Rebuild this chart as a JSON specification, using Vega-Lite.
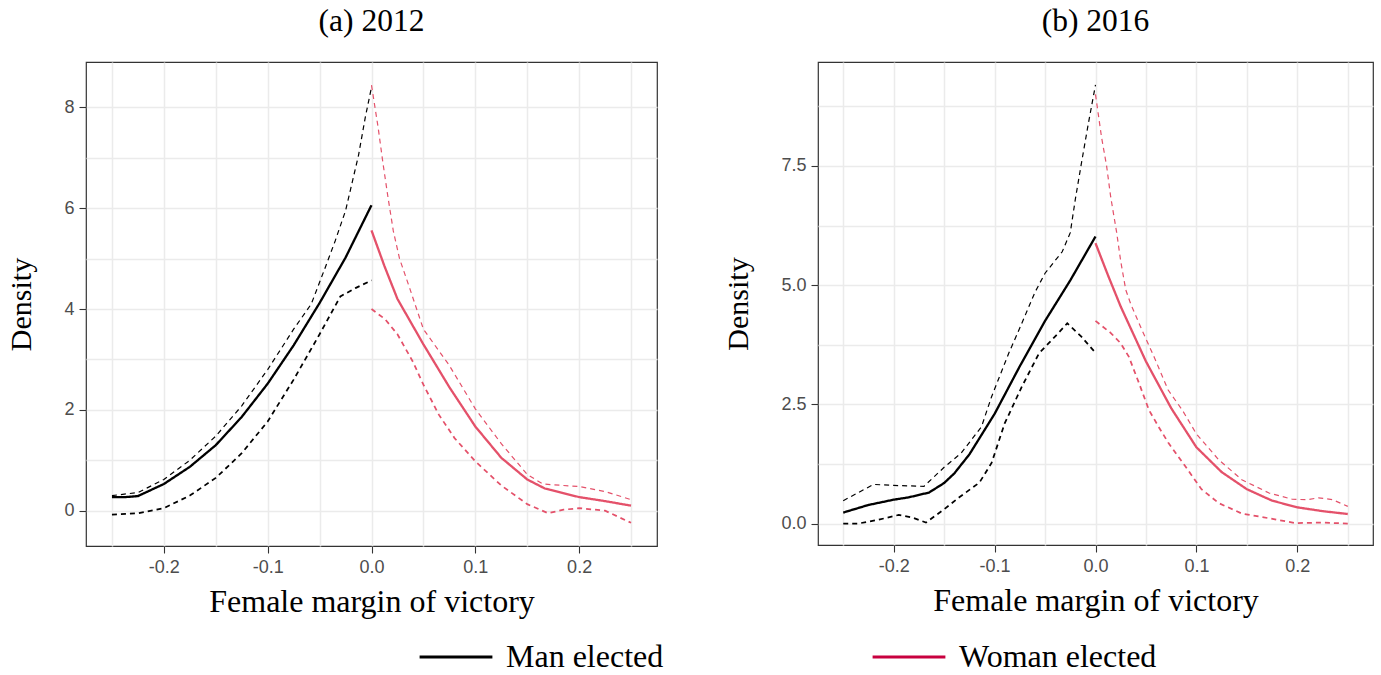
{
  "$schema": "https://vega.github.io/schema/vega-lite/v6.json",
  "background": "white",
  "padding": {"left": 6, "top": 4, "right": 5, "bottom": 5},
  "config": {
    "view": {"stroke": "#333333", "strokeWidth": 1.2},
    "axis": {
      "labelFont": "Liberation Sans", "labelFontSize": 18, "labelColor": "#4D4D4D",
      "tickColor": "#333333", "tickSize": 7, "tickWidth": 1.1, "labelPadding": 5,
      "domain": false, "gridColor": "#EBEBEB", "gridWidth": 1.5,
      "labelOverlap": false, "labelFlush": false,
      "titleFont": "Liberation Serif", "titleFontSize": 30, "titleFontWeight": "normal", "titleColor": "black"
    },
    "title": {"font": "Liberation Serif", "fontSize": 31.5, "fontWeight": "normal", "color": "black", "offset": 25},
    "legend": {"labelFont": "Liberation Serif", "labelFontSize": 32, "labelColor": "black"}
  },
  "datasets": {
    "d2012": [
      {"group": "Man elected", "band": "estimate", "x": -0.25, "y": 0.27},
      {"group": "Man elected", "band": "estimate", "x": -0.237, "y": 0.27},
      {"group": "Man elected", "band": "estimate", "x": -0.225, "y": 0.29},
      {"group": "Man elected", "band": "estimate", "x": -0.2, "y": 0.53},
      {"group": "Man elected", "band": "estimate", "x": -0.175, "y": 0.87},
      {"group": "Man elected", "band": "estimate", "x": -0.15, "y": 1.3},
      {"group": "Man elected", "band": "estimate", "x": -0.125, "y": 1.86},
      {"group": "Man elected", "band": "estimate", "x": -0.1, "y": 2.52},
      {"group": "Man elected", "band": "estimate", "x": -0.075, "y": 3.28},
      {"group": "Man elected", "band": "estimate", "x": -0.05, "y": 4.12},
      {"group": "Man elected", "band": "estimate", "x": -0.025, "y": 5.02},
      {"group": "Man elected", "band": "estimate", "x": 0, "y": 6.06},
      {"group": "Man elected", "band": "upper", "x": -0.25, "y": 0.3},
      {"group": "Man elected", "band": "upper", "x": -0.225, "y": 0.36},
      {"group": "Man elected", "band": "upper", "x": -0.2, "y": 0.62},
      {"group": "Man elected", "band": "upper", "x": -0.175, "y": 1.0},
      {"group": "Man elected", "band": "upper", "x": -0.15, "y": 1.48},
      {"group": "Man elected", "band": "upper", "x": -0.125, "y": 2.08},
      {"group": "Man elected", "band": "upper", "x": -0.1, "y": 2.8},
      {"group": "Man elected", "band": "upper", "x": -0.075, "y": 3.6},
      {"group": "Man elected", "band": "upper", "x": -0.058, "y": 4.1},
      {"group": "Man elected", "band": "upper", "x": -0.045, "y": 4.8},
      {"group": "Man elected", "band": "upper", "x": -0.035, "y": 5.35},
      {"group": "Man elected", "band": "upper", "x": -0.025, "y": 5.95},
      {"group": "Man elected", "band": "upper", "x": -0.0125, "y": 7.05},
      {"group": "Man elected", "band": "upper", "x": -0.006, "y": 7.8},
      {"group": "Man elected", "band": "upper", "x": 0, "y": 8.4},
      {"group": "Man elected", "band": "lower", "x": -0.25, "y": -0.08},
      {"group": "Man elected", "band": "lower", "x": -0.225, "y": -0.05},
      {"group": "Man elected", "band": "lower", "x": -0.2, "y": 0.05},
      {"group": "Man elected", "band": "lower", "x": -0.175, "y": 0.3},
      {"group": "Man elected", "band": "lower", "x": -0.15, "y": 0.65},
      {"group": "Man elected", "band": "lower", "x": -0.125, "y": 1.14},
      {"group": "Man elected", "band": "lower", "x": -0.1, "y": 1.77},
      {"group": "Man elected", "band": "lower", "x": -0.075, "y": 2.6},
      {"group": "Man elected", "band": "lower", "x": -0.05, "y": 3.5},
      {"group": "Man elected", "band": "lower", "x": -0.03, "y": 4.25},
      {"group": "Man elected", "band": "lower", "x": -0.015, "y": 4.42},
      {"group": "Man elected", "band": "lower", "x": 0, "y": 4.57},
      {"group": "Woman elected", "band": "estimate", "x": 0, "y": 5.56},
      {"group": "Woman elected", "band": "estimate", "x": 0.0125, "y": 4.85},
      {"group": "Woman elected", "band": "estimate", "x": 0.025, "y": 4.2},
      {"group": "Woman elected", "band": "estimate", "x": 0.05, "y": 3.3},
      {"group": "Woman elected", "band": "estimate", "x": 0.075, "y": 2.45},
      {"group": "Woman elected", "band": "estimate", "x": 0.1, "y": 1.67},
      {"group": "Woman elected", "band": "estimate", "x": 0.125, "y": 1.05},
      {"group": "Woman elected", "band": "estimate", "x": 0.15, "y": 0.62},
      {"group": "Woman elected", "band": "estimate", "x": 0.167, "y": 0.44},
      {"group": "Woman elected", "band": "estimate", "x": 0.2, "y": 0.27},
      {"group": "Woman elected", "band": "estimate", "x": 0.225, "y": 0.19},
      {"group": "Woman elected", "band": "estimate", "x": 0.25, "y": 0.1},
      {"group": "Woman elected", "band": "upper", "x": 0, "y": 8.44},
      {"group": "Woman elected", "band": "upper", "x": 0.0064, "y": 7.6},
      {"group": "Woman elected", "band": "upper", "x": 0.011, "y": 6.9},
      {"group": "Woman elected", "band": "upper", "x": 0.016, "y": 6.2},
      {"group": "Woman elected", "band": "upper", "x": 0.021, "y": 5.55},
      {"group": "Woman elected", "band": "upper", "x": 0.027, "y": 5.0},
      {"group": "Woman elected", "band": "upper", "x": 0.037, "y": 4.4},
      {"group": "Woman elected", "band": "upper", "x": 0.05, "y": 3.6},
      {"group": "Woman elected", "band": "upper", "x": 0.075, "y": 2.88},
      {"group": "Woman elected", "band": "upper", "x": 0.1, "y": 2.02},
      {"group": "Woman elected", "band": "upper", "x": 0.125, "y": 1.33},
      {"group": "Woman elected", "band": "upper", "x": 0.15, "y": 0.72},
      {"group": "Woman elected", "band": "upper", "x": 0.165, "y": 0.53},
      {"group": "Woman elected", "band": "upper", "x": 0.185, "y": 0.5},
      {"group": "Woman elected", "band": "upper", "x": 0.2, "y": 0.48},
      {"group": "Woman elected", "band": "upper", "x": 0.225, "y": 0.38},
      {"group": "Woman elected", "band": "upper", "x": 0.25, "y": 0.22},
      {"group": "Woman elected", "band": "lower", "x": 0, "y": 4.0},
      {"group": "Woman elected", "band": "lower", "x": 0.013, "y": 3.8},
      {"group": "Woman elected", "band": "lower", "x": 0.025, "y": 3.5},
      {"group": "Woman elected", "band": "lower", "x": 0.04, "y": 2.95},
      {"group": "Woman elected", "band": "lower", "x": 0.05, "y": 2.5},
      {"group": "Woman elected", "band": "lower", "x": 0.065, "y": 1.9},
      {"group": "Woman elected", "band": "lower", "x": 0.08, "y": 1.44},
      {"group": "Woman elected", "band": "lower", "x": 0.1, "y": 0.98},
      {"group": "Woman elected", "band": "lower", "x": 0.125, "y": 0.5},
      {"group": "Woman elected", "band": "lower", "x": 0.15, "y": 0.13},
      {"group": "Woman elected", "band": "lower", "x": 0.17, "y": -0.05},
      {"group": "Woman elected", "band": "lower", "x": 0.185, "y": 0.02},
      {"group": "Woman elected", "band": "lower", "x": 0.2, "y": 0.05},
      {"group": "Woman elected", "band": "lower", "x": 0.225, "y": 0.0},
      {"group": "Woman elected", "band": "lower", "x": 0.25, "y": -0.24}
    ],
    "d2016": [
      {"group": "Man elected", "band": "estimate", "x": -0.25, "y": 0.23},
      {"group": "Man elected", "band": "estimate", "x": -0.225, "y": 0.39},
      {"group": "Man elected", "band": "estimate", "x": -0.2, "y": 0.5},
      {"group": "Man elected", "band": "estimate", "x": -0.185, "y": 0.55},
      {"group": "Man elected", "band": "estimate", "x": -0.165, "y": 0.65},
      {"group": "Man elected", "band": "estimate", "x": -0.15, "y": 0.85},
      {"group": "Man elected", "band": "estimate", "x": -0.14, "y": 1.05},
      {"group": "Man elected", "band": "estimate", "x": -0.125, "y": 1.45},
      {"group": "Man elected", "band": "estimate", "x": -0.1, "y": 2.3},
      {"group": "Man elected", "band": "estimate", "x": -0.075, "y": 3.3},
      {"group": "Man elected", "band": "estimate", "x": -0.05, "y": 4.25},
      {"group": "Man elected", "band": "estimate", "x": -0.025, "y": 5.1},
      {"group": "Man elected", "band": "estimate", "x": 0, "y": 6.02},
      {"group": "Man elected", "band": "upper", "x": -0.25, "y": 0.48},
      {"group": "Man elected", "band": "upper", "x": -0.235, "y": 0.65},
      {"group": "Man elected", "band": "upper", "x": -0.22, "y": 0.82},
      {"group": "Man elected", "band": "upper", "x": -0.2, "y": 0.8},
      {"group": "Man elected", "band": "upper", "x": -0.17, "y": 0.78},
      {"group": "Man elected", "band": "upper", "x": -0.15, "y": 1.18},
      {"group": "Man elected", "band": "upper", "x": -0.133, "y": 1.48},
      {"group": "Man elected", "band": "upper", "x": -0.113, "y": 2.03},
      {"group": "Man elected", "band": "upper", "x": -0.103, "y": 2.66},
      {"group": "Man elected", "band": "upper", "x": -0.086, "y": 3.57},
      {"group": "Man elected", "band": "upper", "x": -0.073, "y": 4.2},
      {"group": "Man elected", "band": "upper", "x": -0.06, "y": 4.85},
      {"group": "Man elected", "band": "upper", "x": -0.05, "y": 5.25},
      {"group": "Man elected", "band": "upper", "x": -0.033, "y": 5.7},
      {"group": "Man elected", "band": "upper", "x": -0.025, "y": 6.1},
      {"group": "Man elected", "band": "upper", "x": -0.02, "y": 6.8},
      {"group": "Man elected", "band": "upper", "x": -0.0136, "y": 7.6},
      {"group": "Man elected", "band": "upper", "x": -0.007, "y": 8.4},
      {"group": "Man elected", "band": "upper", "x": 0, "y": 9.2},
      {"group": "Man elected", "band": "lower", "x": -0.25, "y": 0.0},
      {"group": "Man elected", "band": "lower", "x": -0.235, "y": 0.0},
      {"group": "Man elected", "band": "lower", "x": -0.215, "y": 0.08},
      {"group": "Man elected", "band": "lower", "x": -0.195, "y": 0.18},
      {"group": "Man elected", "band": "lower", "x": -0.182, "y": 0.13},
      {"group": "Man elected", "band": "lower", "x": -0.168, "y": 0.02},
      {"group": "Man elected", "band": "lower", "x": -0.15, "y": 0.3},
      {"group": "Man elected", "band": "lower", "x": -0.135, "y": 0.55},
      {"group": "Man elected", "band": "lower", "x": -0.115, "y": 0.86},
      {"group": "Man elected", "band": "lower", "x": -0.103, "y": 1.27},
      {"group": "Man elected", "band": "lower", "x": -0.09, "y": 2.1},
      {"group": "Man elected", "band": "lower", "x": -0.073, "y": 2.87},
      {"group": "Man elected", "band": "lower", "x": -0.056, "y": 3.57},
      {"group": "Man elected", "band": "lower", "x": -0.037, "y": 3.99},
      {"group": "Man elected", "band": "lower", "x": -0.028, "y": 4.2},
      {"group": "Man elected", "band": "lower", "x": -0.014, "y": 3.92},
      {"group": "Man elected", "band": "lower", "x": 0, "y": 3.58},
      {"group": "Woman elected", "band": "estimate", "x": 0, "y": 5.88},
      {"group": "Woman elected", "band": "estimate", "x": 0.0125, "y": 5.2},
      {"group": "Woman elected", "band": "estimate", "x": 0.025, "y": 4.55},
      {"group": "Woman elected", "band": "estimate", "x": 0.05, "y": 3.4},
      {"group": "Woman elected", "band": "estimate", "x": 0.075, "y": 2.42},
      {"group": "Woman elected", "band": "estimate", "x": 0.1, "y": 1.6},
      {"group": "Woman elected", "band": "estimate", "x": 0.125, "y": 1.08},
      {"group": "Woman elected", "band": "estimate", "x": 0.15, "y": 0.72},
      {"group": "Woman elected", "band": "estimate", "x": 0.175, "y": 0.48},
      {"group": "Woman elected", "band": "estimate", "x": 0.2, "y": 0.34},
      {"group": "Woman elected", "band": "estimate", "x": 0.225, "y": 0.26},
      {"group": "Woman elected", "band": "estimate", "x": 0.25, "y": 0.2},
      {"group": "Woman elected", "band": "upper", "x": 0, "y": 9.0},
      {"group": "Woman elected", "band": "upper", "x": 0.006, "y": 8.1},
      {"group": "Woman elected", "band": "upper", "x": 0.011, "y": 7.5},
      {"group": "Woman elected", "band": "upper", "x": 0.015, "y": 6.86},
      {"group": "Woman elected", "band": "upper", "x": 0.021, "y": 6.1},
      {"group": "Woman elected", "band": "upper", "x": 0.025, "y": 5.5},
      {"group": "Woman elected", "band": "upper", "x": 0.03, "y": 4.9},
      {"group": "Woman elected", "band": "upper", "x": 0.035, "y": 4.6},
      {"group": "Woman elected", "band": "upper", "x": 0.046, "y": 4.06},
      {"group": "Woman elected", "band": "upper", "x": 0.058, "y": 3.5},
      {"group": "Woman elected", "band": "upper", "x": 0.072, "y": 2.8},
      {"group": "Woman elected", "band": "upper", "x": 0.086, "y": 2.38},
      {"group": "Woman elected", "band": "upper", "x": 0.1, "y": 1.88},
      {"group": "Woman elected", "band": "upper", "x": 0.122, "y": 1.34},
      {"group": "Woman elected", "band": "upper", "x": 0.145, "y": 0.92},
      {"group": "Woman elected", "band": "upper", "x": 0.172, "y": 0.64},
      {"group": "Woman elected", "band": "upper", "x": 0.195, "y": 0.51},
      {"group": "Woman elected", "band": "upper", "x": 0.21, "y": 0.5},
      {"group": "Woman elected", "band": "upper", "x": 0.221, "y": 0.54},
      {"group": "Woman elected", "band": "upper", "x": 0.235, "y": 0.5},
      {"group": "Woman elected", "band": "upper", "x": 0.25, "y": 0.36},
      {"group": "Woman elected", "band": "lower", "x": 0, "y": 4.25},
      {"group": "Woman elected", "band": "lower", "x": 0.015, "y": 4.0},
      {"group": "Woman elected", "band": "lower", "x": 0.025, "y": 3.78},
      {"group": "Woman elected", "band": "lower", "x": 0.033, "y": 3.5},
      {"group": "Woman elected", "band": "lower", "x": 0.043, "y": 2.95},
      {"group": "Woman elected", "band": "lower", "x": 0.053, "y": 2.38},
      {"group": "Woman elected", "band": "lower", "x": 0.0625, "y": 2.03},
      {"group": "Woman elected", "band": "lower", "x": 0.072, "y": 1.7},
      {"group": "Woman elected", "band": "lower", "x": 0.089, "y": 1.2},
      {"group": "Woman elected", "band": "lower", "x": 0.105, "y": 0.72},
      {"group": "Woman elected", "band": "lower", "x": 0.122, "y": 0.43},
      {"group": "Woman elected", "band": "lower", "x": 0.145, "y": 0.21},
      {"group": "Woman elected", "band": "lower", "x": 0.172, "y": 0.11},
      {"group": "Woman elected", "band": "lower", "x": 0.198, "y": 0.01},
      {"group": "Woman elected", "band": "lower", "x": 0.224, "y": 0.02},
      {"group": "Woman elected", "band": "lower", "x": 0.25, "y": 0.0}
    ]
  },
  "hconcat": [
    {
      "width": 571, "height": 484,
      "title": "(a) 2012",
      "data": {"name": "d2012"},
      "encoding": {
        "x": {"field": "x", "type": "quantitative", "title": "Female margin of victory",
          "scale": {"domain": [-0.275, 0.275], "nice": false, "zero": false},
          "axis": {"values": [-0.25, -0.2, -0.15, -0.1, -0.05, 0, 0.05, 0.1, 0.15, 0.2, 0.25],
            "labelExpr": "abs(datum.value*10 - round(datum.value*10)) < 0.001 ? ((datum.value < -0.001 ? '-' : '') + format(abs(datum.value), '.1f')) : ''",
            "tickOpacity": {"condition": {"test": "abs(datum.value*10 - round(datum.value*10)) < 0.001", "value": 1}, "value": 0},
            "titlePadding": 10, "titleFontSize": 32}},
        "y": {"field": "y", "type": "quantitative", "title": "Density",
          "scale": {"domain": [-0.7, 8.9], "nice": false, "zero": false},
          "axis": {"values": [0, 1, 2, 3, 4, 5, 6, 7, 8],
            "labelExpr": "datum.value % 2 === 0 ? format(datum.value, 'd') : ''",
            "tickOpacity": {"condition": {"test": "datum.value % 2 === 0", "value": 1}, "value": 0},
            "titlePadding": 27}},
        "detail": {"field": "band"}
      },
      "layer": [
        {
          "mark": {"type": "line", "clip": true, "opacity": 0},
          "encoding": {
            "color": {"field": "group", "type": "nominal",
              "scale": {"domain": ["Man elected", "Woman elected"], "range": ["#000000", "#C8003F"]},
              "legend": {"title": null, "orient": "none", "direction": "horizontal", "legendX": 332, "legendY": 557,
                "symbolType": "stroke", "symbolSize": 5300, "symbolStrokeWidth": 3, "symbolOpacity": 1,
                "columnPadding": 202, "labelOffset": 12, "labelLimit": 400}}
          }
        },
        {
          "mark": {"type": "line", "clip": true},
          "encoding": {
            "stroke": {"field": "group", "type": "nominal", "legend": null,
              "scale": {"domain": ["Man elected", "Woman elected"], "range": ["#000000", "#E4516A"]}},
            "strokeDash": {"field": "band", "type": "nominal", "legend": null,
              "scale": {"domain": ["estimate", "lower", "upper"], "range": [[1, 0], [5, 4], [5, 4]]}},
            "strokeWidth": {"field": "band", "type": "nominal", "legend": null,
              "scale": {"domain": ["estimate", "lower", "upper"], "range": [2.3, 1.2, 1.2]}}
          }
        }
      ]
    },
    {
      "width": 555, "height": 483,
      "title": "(b) 2016",
      "data": {"name": "d2016"},
      "mark": {"type": "line", "clip": true},
      "encoding": {
        "x": {"field": "x", "type": "quantitative", "title": "Female margin of victory",
          "scale": {"domain": [-0.275, 0.275], "nice": false, "zero": false},
          "axis": {"values": [-0.25, -0.2, -0.15, -0.1, -0.05, 0, 0.05, 0.1, 0.15, 0.2, 0.25],
            "labelExpr": "abs(datum.value*10 - round(datum.value*10)) < 0.001 ? ((datum.value < -0.001 ? '-' : '') + format(abs(datum.value), '.1f')) : ''",
            "tickOpacity": {"condition": {"test": "abs(datum.value*10 - round(datum.value*10)) < 0.001", "value": 1}, "value": 0},
            "titlePadding": 10, "titleFontSize": 32}},
        "y": {"field": "y", "type": "quantitative", "title": "Density",
          "scale": {"domain": [-0.45, 9.68], "nice": false, "zero": false},
          "axis": {"values": [0, 1.25, 2.5, 3.75, 5, 6.25, 7.5, 8.75],
            "labelExpr": "abs(datum.value/2.5 - round(datum.value/2.5)) < 0.001 ? format(datum.value, '.1f') : ''",
            "tickOpacity": {"condition": {"test": "abs(datum.value/2.5 - round(datum.value/2.5)) < 0.001", "value": 1}, "value": 0},
            "titlePadding": 27}},
        "stroke": {"field": "group", "type": "nominal", "legend": null,
          "scale": {"domain": ["Man elected", "Woman elected"], "range": ["#000000", "#E4516A"]}},
        "strokeDash": {"field": "band", "type": "nominal", "legend": null,
          "scale": {"domain": ["estimate", "lower", "upper"], "range": [[1, 0], [5, 4], [5, 4]]}},
        "strokeWidth": {"field": "band", "type": "nominal", "legend": null,
          "scale": {"domain": ["estimate", "lower", "upper"], "range": [2.3, 1.2, 1.2]}},
        "detail": {"field": "band"}
      }
    }
  ],
  "spacing": 65,
  "resolve": {"scale": {"x": "independent", "y": "independent", "strokeDash": "shared", "strokeWidth": "shared"}}
}
